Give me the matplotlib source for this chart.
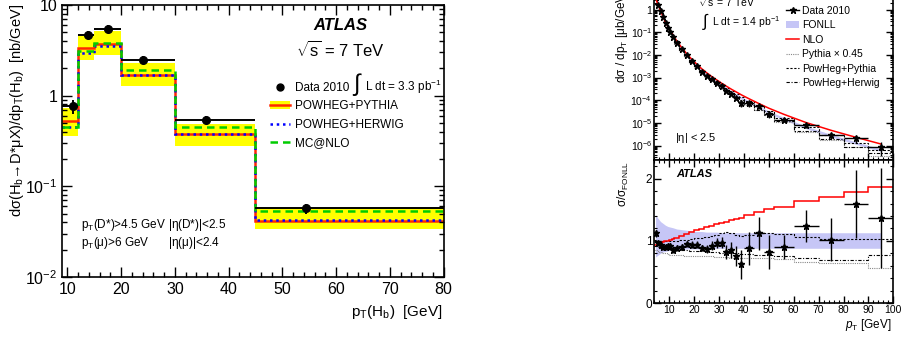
import numpy as np
import matplotlib.pyplot as plt
from matplotlib.ticker import FuncFormatter, LogLocator, MultipleLocator, NullFormatter
from matplotlib.patches import Patch
from matplotlib.lines import Line2D

plt.rcParams.update({
    "font.family": ["Liberation Sans", "DejaVu Sans"],
    "mathtext.fontset": "custom",
    "mathtext.rm": "Liberation Sans",
    "mathtext.it": "Liberation Sans:italic",
    "mathtext.bf": "Liberation Sans:bold",
    "mathtext.default": "regular",
    "xtick.direction": "in",
    "ytick.direction": "in",
    "xtick.top": True,
    "ytick.right": True,
    "axes.linewidth": 1.2,
})

# ---- left panel: H_b -> D* mu X
hb_edges = [9, 12, 15, 20, 30, 45, 80]
hb_data_x = [11.0, 13.8, 17.5, 24.0, 35.8, 54.5]
hb_data_y = [0.76, 4.7, 5.5, 2.5, 0.54, 0.057]
hb_data_err = [0.13, 0.45, 0.5, 0.22, 0.05, 0.007]
powheg_pythia = [0.53, 3.36, 3.71, 1.69, 0.378, 0.0418]
powheg_pythia_lo = [0.362, 2.47, 2.83, 1.27, 0.276, 0.0339]
powheg_pythia_hi = [0.74, 4.59, 5.21, 2.27, 0.487, 0.0577]
powheg_herwig = [0.447, 2.93, 3.56, 1.67, 0.38, 0.0429]
mcatnlo = [0.455, 3.14, 3.8, 1.92, 0.447, 0.0534]

# ---- right panel: inclusive heavy-flavour muons
mu_edges = [4, 5, 6, 7, 8, 9, 10, 11, 12, 14, 16, 18, 20, 22, 24, 26, 28, 30,
            32, 34, 36, 38, 40, 44, 48, 52, 60, 70, 80, 90, 100]
fonll = [3.39, 1.74, 0.912, 0.513, 0.282, 0.178, 0.112, 0.0741, 0.0398, 0.0195,
         0.0102, 5.75e-3, 3.39e-3, 2.09e-3, 1.35e-3, 9.1e-4, 6.3e-4, 4.4e-4,
         3.16e-4, 2.29e-4, 1.70e-4, 1.26e-4, 8.3e-5, 4.9e-5, 2.95e-5, 1.55e-5,
         6.3e-6, 2.75e-6, 1.29e-6, 6.3e-7]
fonll_hi = [1.42, 1.36, 1.31, 1.28, 1.25, 1.23, 1.22, 1.21, 1.19, 1.18, 1.17, 1.16,
            1.15, 1.15, 1.14, 1.14, 1.14, 1.13, 1.13, 1.13, 1.13, 1.13, 1.13, 1.13,
            1.13, 1.13, 1.13, 1.13, 1.13, 1.13]
fonll_lo = [0.74, 0.77, 0.80, 0.82, 0.83, 0.84, 0.85, 0.85, 0.86, 0.86, 0.87, 0.87,
            0.87, 0.87, 0.88, 0.88, 0.88, 0.88, 0.88, 0.88, 0.88, 0.88, 0.88, 0.88,
            0.88, 0.88, 0.88, 0.88, 0.88, 0.88]
data_ratio = [1.12, 0.97, 0.93, 0.90, 0.90, 0.91, 0.91, 0.86, 0.88, 0.90, 0.95, 0.94,
              0.94, 0.88, 0.87, 0.92, 0.96, 0.97, 0.82, 0.85, 0.76, 0.62, 0.88, 1.12,
              0.82, 0.90, 1.24, 1.02, 1.59, 1.37]
data_ratio_err = [0.06, 0.05, 0.05, 0.05, 0.05, 0.05, 0.05, 0.05, 0.05, 0.05, 0.05,
                  0.05, 0.05, 0.05, 0.06, 0.07, 0.08, 0.09, 0.12, 0.13, 0.16, 0.23,
                  0.27, 0.27, 0.28, 0.20, 0.26, 0.34, 0.55, 0.80]
nlo_ratio = [0.94, 0.96, 0.97, 0.98, 0.99, 1.00, 1.01, 1.03, 1.05, 1.08, 1.11, 1.14,
             1.17, 1.19, 1.22, 1.24, 1.27, 1.29, 1.31, 1.33, 1.35, 1.37, 1.41, 1.46,
             1.51, 1.55, 1.64, 1.71, 1.79, 1.86]
pythia045_ratio = [0.86, 0.84, 0.82, 0.81, 0.80, 0.79, 0.78, 0.78, 0.77, 0.77, 0.76,
                   0.76, 0.76, 0.75, 0.75, 0.75, 0.74, 0.74, 0.74, 0.73, 0.73, 0.73,
                   0.72, 0.72, 0.72, 0.70, 0.66, 0.64, 0.64, 0.57]
powpyt_ratio = [1.02, 1.00, 0.99, 0.99, 0.99, 0.99, 1.00, 1.00, 1.00, 1.01, 1.02,
                1.03, 1.04, 1.05, 1.06, 1.08, 1.10, 1.13, 1.14, 1.12, 1.10, 1.08,
                1.10, 1.14, 1.13, 1.11, 1.06, 1.03, 1.03, 1.03]
powher_ratio = [0.92, 0.90, 0.89, 0.88, 0.88, 0.87, 0.87, 0.86, 0.86, 0.85, 0.85,
                0.84, 0.84, 0.83, 0.83, 0.82, 0.82, 0.81, 0.80, 0.80, 0.80, 0.79,
                0.79, 0.78, 0.78, 0.76, 0.72, 0.69, 0.69, 0.77]


def log_label(v, pos):
    e = int(round(np.log10(v)))
    if e == 0:
        return "1"
    if e == 1:
        return "10"
    return r"$10^{%d}$" % e


W, H = 901, 338


def box(x0, y0, x1, y1):
    # pixel box (top-left origin) -> figure fraction
    return [x0 / W, 1 - y1 / H, (x1 - x0) / W, (y1 - y0) / H]


fig = plt.figure(figsize=(9.01, 3.38), dpi=100)

# ======================= left panel =======================
ax = fig.add_axes(box(62, 5, 443.5, 277))
edges = np.array(hb_edges, float)
ax.stairs(powheg_pythia_hi, edges, baseline=powheg_pythia_lo, fill=True,
          color="#ffff00", lw=0)
ax.stairs(powheg_pythia, edges, baseline=None, color="#ff2a00", lw=1.8)
ax.stairs(powheg_herwig, edges, baseline=None, color="#0000ff", lw=1.8,
          ls=(0, (1, 1.5)))
ax.stairs(mcatnlo, edges, baseline=None, color="#00cc00", lw=1.8, ls=(0, (3, 2)))
x = np.array(hb_data_x)
xerr = [x - edges[:-1], edges[1:] - x]
ax.errorbar(x, hb_data_y, xerr=xerr, yerr=hb_data_err, fmt="o", color="black",
            ms=5.5, lw=1.4, capsize=0, zorder=5)
ax.set_yscale("log")
ax.set_xlim(9, 80)
ax.set_ylim(0.01, 10)
ax.yaxis.set_major_locator(LogLocator(base=10, numticks=10))
ax.yaxis.set_minor_locator(LogLocator(base=10, subs=np.arange(2, 10), numticks=10))
ax.yaxis.set_major_formatter(FuncFormatter(log_label))
ax.yaxis.set_minor_formatter(NullFormatter())
ax.xaxis.set_major_locator(MultipleLocator(10))
ax.xaxis.set_minor_locator(MultipleLocator(2))
ax.tick_params(which="major", length=7, width=1.0, labelsize=11.5)
ax.tick_params(which="minor", length=3.5, width=1.0)

ax.text(0.731, 0.926, "ATLAS", transform=ax.transAxes, ha="center", va="center",
        fontsize=12, fontweight="bold", fontstyle="italic")
ax.text(0.729, 0.835, r"$\sqrt{s}$ = 7 TeV", transform=ax.transAxes, ha="center",
        va="center", fontsize=12)
ax.text(0.773, 0.706, "\u222b", transform=ax.transAxes, ha="center", va="center",
        fontsize=17)
ax.text(0.794, 0.699, "L dt = 3.3 pb$^{-1}$", transform=ax.transAxes, ha="left",
        va="center", fontsize=8.5)
ax.text(0.05, 0.19, r"p$_{T}$(D*)>4.5 GeV", transform=ax.transAxes, fontsize=8.5,
        va="center")
ax.text(0.278, 0.19, r"|$\eta$(D*)|<2.5", transform=ax.transAxes, fontsize=8.5,
        va="center")
ax.text(0.05, 0.125, r"p$_{T}$($\mu$)>6 GeV", transform=ax.transAxes, fontsize=8.5,
        va="center")
ax.text(0.278, 0.125, r"|$\eta$($\mu$)|<2.4", transform=ax.transAxes, fontsize=8.5,
        va="center")

h_data = Line2D([], [], marker="o", color="black", ls="none", ms=5)
h_pp = (Patch(facecolor="#ffff00", lw=0), Line2D([], [], color="#ff2a00", lw=1.8))
h_ph = Line2D([], [], color="#0000ff", lw=1.8, ls=(0, (1, 1.5)))
h_mc = Line2D([], [], color="#00cc00", lw=1.8, ls=(0, (3, 2)))
ax.legend([h_data, h_pp, h_ph, h_mc],
          ["Data 2010", "POWHEG+PYTHIA", "POWHEG+HERWIG", "MC@NLO"],
          loc="upper left", bbox_to_anchor=(0.545, 0.717), frameon=False,
          fontsize=8.5, handlelength=1.7, handletextpad=0.45, labelspacing=0.55,
          borderpad=0, borderaxespad=0)

fig.text(17 / W, 1 - 4 / H,
         "d\u03c3(H$_{b}$\u2192D*\u03bcX)/dp$_{T}$(H$_{b}$)  [nb/GeV]",
         rotation=90, ha="center", va="top", fontsize=10.5)
fig.text(443 / W, 1 - 312 / H, "p$_{T}$(H$_{b}$)  [GeV]", ha="right",
         va="center", fontsize=11)

# ======================= right panel =======================
me = np.array(mu_edges, float)
mc = 0.5 * (me[:-1] + me[1:])
mw = 0.5 * (me[1:] - me[:-1])
f = np.array(fonll)

axt = fig.add_axes(box(654.3, -13, 893.3, 160))
axr = fig.add_axes(box(654.3, 160, 893.3, 303), sharex=axt)

band_c = "#c6c6f6"
st_p45 = dict(color="#888888", lw=0.8, ls=(0, (1, 1)))
st_pp = dict(color="black", lw=0.8, ls=(0, (2, 1.5)))
st_ph = dict(color="black", lw=0.8, ls=(0, (3, 1.5, 1, 1.5)))

axt.fill_between(mc, f * np.array(fonll_lo), f * np.array(fonll_hi), color=band_c, lw=0)
axt.stairs(f * np.array(pythia045_ratio), me, baseline=None, **st_p45)
axt.stairs(f * np.array(powpyt_ratio), me, baseline=None, **st_pp)
axt.stairs(f * np.array(powher_ratio), me, baseline=None, **st_ph)
axt.plot(mc, f * np.array(nlo_ratio), color="#ff0000", lw=1.1)
axt.errorbar(mc, f * np.array(data_ratio), xerr=mw, yerr=f * np.array(data_ratio_err),
             fmt="*", color="black", ms=5, lw=1.0, capsize=0, zorder=5)
axt.set_yscale("log")
axt.set_ylim(2.3e-7, 10)
axt.yaxis.set_major_locator(LogLocator(base=10, numticks=12))
axt.yaxis.set_minor_locator(LogLocator(base=10, subs=np.arange(2, 10), numticks=12))
axt.yaxis.set_major_formatter(FuncFormatter(log_label))
axt.yaxis.set_minor_formatter(NullFormatter())
axt.tick_params(labelbottom=False)

axt.text(0.183, 0.913, r"$\sqrt{s}$ = 7 TeV", transform=axt.transAxes, fontsize=7.5,
         ha="left", va="center")
axt.text(0.213, 0.80, "\u222b", transform=axt.transAxes, fontsize=12, ha="center",
         va="center")
axt.text(0.241, 0.798, "L dt = 1.4 pb$^{-1}$", transform=axt.transAxes, fontsize=7.5,
         ha="left", va="center")
axt.text(0.086, 0.127, r"|$\eta$| < 2.5", transform=axt.transAxes, fontsize=8,
         ha="left", va="center")

lh = [
    Line2D([], [], marker="*", color="black", ms=5, lw=1.0),
    Patch(facecolor=band_c, lw=0),
    Line2D([], [], color="#ff0000", lw=1.1),
    Line2D([], [], **st_p45),
    Line2D([], [], **st_pp),
    Line2D([], [], **st_ph),
]
axt.legend(lh, ["Data 2010", "FONLL", "NLO", "Pythia \u00d7 0.45", "PowHeg+Pythia",
                "PowHeg+Herwig"],
           loc="upper left", bbox_to_anchor=(0.55, 0.89), frameon=False, fontsize=7.5,
           handlelength=1.3, handletextpad=0.3, labelspacing=0.42, borderpad=0,
           borderaxespad=0)

axr.fill_between(mc, fonll_lo, fonll_hi, color=band_c, lw=0)
axr.stairs(pythia045_ratio, me, baseline=None, **st_p45)
axr.stairs(powpyt_ratio, me, baseline=None, **st_pp)
axr.stairs(powher_ratio, me, baseline=None, **st_ph)
axr.stairs(nlo_ratio, me, baseline=None, color="#ff0000", lw=1.1)
axr.errorbar(mc, data_ratio, xerr=mw, yerr=data_ratio_err, fmt="*", color="black",
             ms=5, lw=1.0, capsize=0, zorder=5)
axr.set_xlim(4, 100)
axr.set_ylim(0, 2.3)
axr.xaxis.set_major_locator(MultipleLocator(10))
axr.xaxis.set_minor_locator(MultipleLocator(2))
axr.yaxis.set_major_locator(MultipleLocator(1))
axr.yaxis.set_minor_locator(MultipleLocator(0.2))
axr.text(0.09, 0.9, "ATLAS", transform=axr.transAxes, fontsize=8, fontweight="bold",
         fontstyle="italic", ha="left", va="center")

for a in (axt, axr):
    a.tick_params(which="major", length=5, width=1.0, labelsize=7.5, pad=1.5)
    a.tick_params(which="minor", length=2.5, width=0.8)
axr.tick_params(axis="y", labelsize=8.5)

fig.text(622 / W, 1 + 10 / H, "d\u03c3 / dp$_{T}$ [\u03bcb/GeV]", rotation=90,
         ha="center", va="top", fontsize=8.5)
fig.text(623 / W, 1 - 161 / H, "\u03c3/\u03c3$_{FONLL}$", rotation=90, ha="center",
         va="top", fontsize=8.5)
fig.text(892 / W, 1 - 325 / H, "$\\mathit{p}_{T}$ [GeV]", ha="right", va="center",
         fontsize=8.5)

fig.savefig("out.png", dpi=100, facecolor="white")
